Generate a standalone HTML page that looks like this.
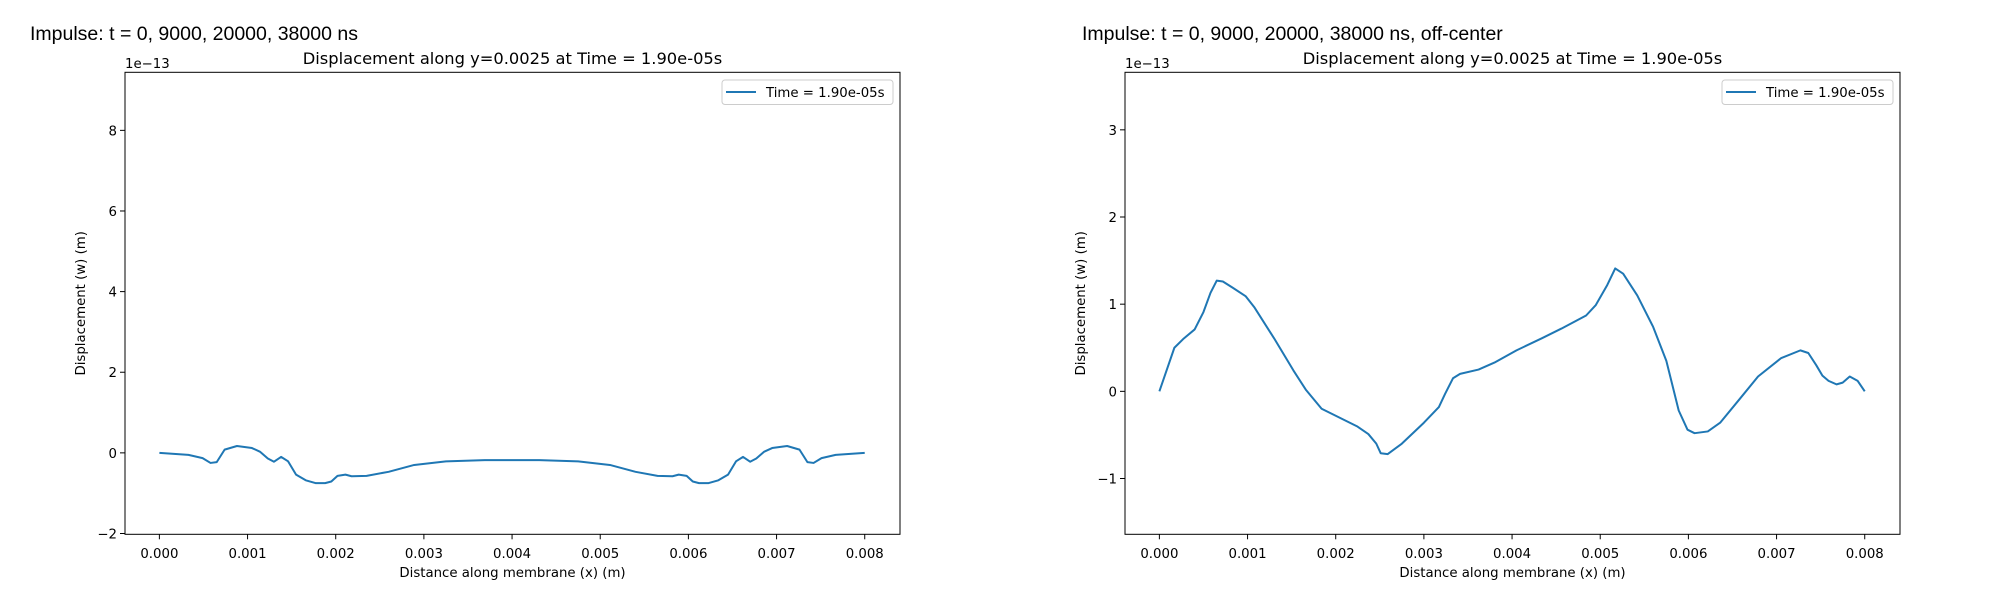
<!DOCTYPE html>
<html><head><meta charset="utf-8"><style>
html,body{margin:0;padding:0;background:#fff;}
svg{display:block;font-family:"DejaVu Sans","Liberation Sans",sans-serif;}
.sup{font-family:"Liberation Sans",sans-serif;font-size:19.5px;}
.t{font-size:16.3px;}
.tick{font-size:13.3px;}
</style></head><body>
<svg id="fig" width="2000" height="600" xmlns="http://www.w3.org/2000/svg"></svg>
<script>
const xTicks=[0,0.001,0.002,0.003,0.004,0.005,0.006,0.007,0.008];
const xTickLabels=["0.000","0.001","0.002","0.003","0.004","0.005","0.006","0.007","0.008"];
const leftYTicks=[-2,0,2,4,6,8];
const rightYTicks=[-1,0,1,2,3];
const leftX=[0,0.00033,0.00049,0.00058,0.00065,0.00074,0.00088,0.00105,0.00114,0.00123,0.0013,0.00138,0.00146,0.00155,0.00166,0.00177,0.00188,0.00195,0.00202,0.00211,0.00218,0.00235,0.0026,0.00289,0.00325,0.00369,0.004,0.00431,0.00475,0.00511,0.0054,0.00565,0.00582,0.00589,0.00598,0.00605,0.00612,0.00623,0.00634,0.00645,0.00654,0.00662,0.0067,0.00677,0.00686,0.00695,0.00712,0.00726,0.00735,0.00742,0.00751,0.00767,0.008];
const leftY=[0,-0.05,-0.13,-0.25,-0.23,0.08,0.17,0.12,0.03,-0.14,-0.22,-0.1,-0.21,-0.54,-0.68,-0.75,-0.75,-0.71,-0.57,-0.54,-0.58,-0.57,-0.47,-0.3,-0.21,-0.18,-0.18,-0.18,-0.21,-0.3,-0.47,-0.57,-0.58,-0.54,-0.57,-0.71,-0.75,-0.75,-0.68,-0.54,-0.21,-0.1,-0.22,-0.14,0.03,0.12,0.17,0.08,-0.23,-0.25,-0.13,-0.05,0];
const rightX=[0,0.00017,0.00027,0.0004,0.0005,0.00058,0.00065,0.00072,0.00083,0.00098,0.00108,0.0013,0.00152,0.00166,0.00184,0.00202,0.00224,0.00237,0.00246,0.00251,0.00259,0.00275,0.003,0.00317,0.00324,0.00333,0.00341,0.00362,0.0038,0.00405,0.00434,0.00456,0.00484,0.00495,0.00508,0.00517,0.00526,0.00542,0.0056,0.00575,0.00589,0.00599,0.00607,0.00622,0.00636,0.00658,0.00679,0.00705,0.00727,0.00736,0.00745,0.00752,0.00759,0.00768,0.00775,0.00783,0.00792,0.008];
const rightY=[0,0.5,0.6,0.71,0.91,1.13,1.27,1.26,1.19,1.09,0.96,0.61,0.24,0.02,-0.2,-0.29,-0.4,-0.49,-0.6,-0.71,-0.72,-0.6,-0.36,-0.18,-0.03,0.15,0.2,0.25,0.33,0.47,0.61,0.72,0.87,0.99,1.22,1.41,1.35,1.1,0.74,0.35,-0.22,-0.44,-0.48,-0.46,-0.36,-0.09,0.17,0.38,0.47,0.44,0.3,0.18,0.12,0.08,0.1,0.17,0.12,0];
const NS="http://www.w3.org/2000/svg";
const svg=document.getElementById('fig');
function el(tag,attrs,parent,text){const e=document.createElementNS(NS,tag);for(const k in attrs)e.setAttribute(k,attrs[k]);if(text!==undefined)e.textContent=text;(parent||svg).appendChild(e);return e;}
function panel(ox,sup,ymin,ymax,yTicks,xs,ys,key){
  const L=ox+125,R=ox+900,T=72.3,B=534.3,xmin=-0.00039,xmax=0.0084;
  const sx=v=>L+(v-xmin)/(xmax-xmin)*(R-L);
  const sy=v=>B-(v-ymin)/(ymax-ymin)*(B-T);
  const g=el('g',{});
  
  
  const st=el('text',{x:(key==='left'?30:1082),y:40,class:'sup'},g,sup);
  
  
  const ti=el('text',{x:(L+R)/2,y:64,class:'t','text-anchor':'middle'},g,'Displacement along y=0.0025 at Time = 1.90e-05s');
  
  
  const off=el('text',{x:L,y:68,class:'tick'},g,'1e\u221213');
  
  
  xTicks.forEach((v,i)=>{const x=sx(v);
    el('line',{x1:x,x2:x,y1:B,y2:B+5,stroke:'#000','stroke-width':1},g);
    const t=el('text',{x:x,y:558,class:'tick','text-anchor':'middle'},g,xTickLabels[i]);
    
    });
  yTicks.forEach(v=>{const y=sy(v);
    el('line',{x1:L-5,x2:L,y1:y,y2:y,stroke:'#000','stroke-width':1},g);
    const t=el('text',{x:L-8,y:y+5,class:'tick','text-anchor':'end'},g,v<0?'\u2212'+Math.abs(v):String(v));
    
    });
  const xl=el('text',{x:(L+R)/2,y:577,class:'tick','text-anchor':'middle'},g,'Distance along membrane (x) (m)');
  
  
  const yl=el('text',{x:0,y:0,class:'tick','text-anchor':'middle',transform:`translate(${ox+85},${(T+B)/2}) rotate(-90)`},g,'Displacement (w) (m)');
  
  
  const d=xs.map((v,i)=>(i?'L':'M')+sx(v).toFixed(2)+','+sy(ys[i]).toFixed(2)).join('');
  const p=el('path',{d:d,fill:'none',stroke:'#1f77b4','stroke-width':2,'stroke-linejoin':'round'},g);
  
  
  const fr=el('rect',{x:L,y:T,width:R-L,height:B-T,fill:'none',stroke:'#000','stroke-width':1},g);
  
  
  const lg=el('g',{},g);
  
  
  el('rect',{x:ox+722,y:80,width:171,height:24.5,rx:3,fill:'#fff',stroke:'#ccc','stroke-width':1},lg);
  el('line',{x1:ox+726,x2:ox+756,y1:92,y2:92,stroke:'#1f77b4','stroke-width':2},lg);
  const lt=el('text',{x:ox+766,y:97,class:'tick'},lg,'Time = 1.90e-05s');
  
  
}
panel(0,'Impulse: t = 0, 9000, 20000, 38000 ns',-2.02,9.44,leftYTicks,leftX,leftY,'left');
panel(1000,'Impulse: t = 0, 9000, 20000, 38000 ns, off-center',-1.64,3.66,rightYTicks,rightX,rightY,'right');
</script>
</body></html>
